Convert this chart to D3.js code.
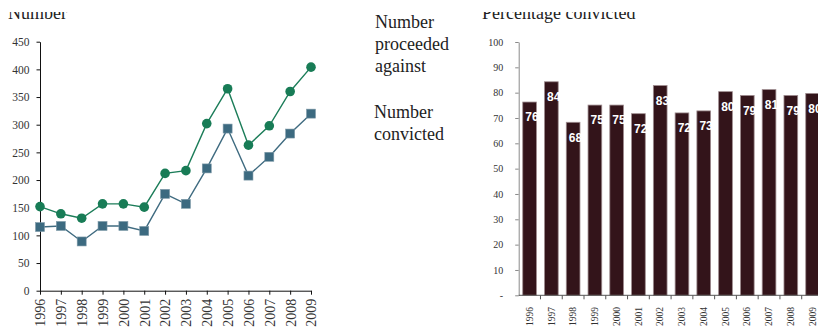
<!DOCTYPE html>
<html>
<head>
<meta charset="utf-8">
<script src="https://cdn.jsdelivr.net/npm/d3@7"></script>
<style>
  html, body { margin: 0; padding: 0; background: #fff; }
  svg { display: block; }
</style>
</head>
<body>
<svg id="chart" width="818" height="328"></svg>
<script>
const years = ["1996","1997","1998","1999","2000","2001","2002","2003","2004","2005","2006","2007","2008","2009"];
const proceeded = [152, 139, 131, 157, 157, 151, 212, 217, 302, 365, 263, 298, 360, 404];
const convicted = [115, 117, 89, 117, 117, 108, 175, 157, 221, 293, 208, 242, 284, 320];
const pctConvicted = [76.3, 84.3, 68.3, 75.1, 75.1, 71.7, 82.8, 72.0, 72.8, 80.4, 78.9, 81.2, 78.9, 79.7];
const pctLabels = ["76","84","68","75","75","72","83","72","73","80","79","81","79","80"];
const leftTicks = [0, 50, 100, 150, 200, 250, 300, 350, 400, 450];
const rightTicks = [0, 10, 20, 30, 40, 50, 60, 70, 80, 90, 100];
const rightTickLabels = ["-", "10", "20", "30", "40", "50", "60", "70", "80", "90", "100"];
const legendProceeded = ["Number", "proceeded", "against"];
const legendConvicted = ["Number", "convicted"];

const svg = d3.select("#chart");
const serif = "'Liberation Serif', 'Times New Roman', serif";
const sans = "'Liberation Sans', Arial, sans-serif";

const defs = svg.append("defs");
defs.append("clipPath").attr("id", "titleClip")
  .append("rect").attr("x", 0).attr("y", 12).attr("width", 818).attr("height", 30);

// ---------------- Left chart ----------------
const xL = d3.scalePoint().domain(years).range([40, 311]);
const yL = d3.scaleLinear().domain([0, 450]).range([290.7, 41.7]);

const gL = svg.append("g");
gL.append("text").attr("x", 8).attr("y", 19)
  .attr("clip-path", "url(#titleClip)")
  .style("font-family", serif).style("font-size", "18px").attr("fill", "#222")
  .text("Number");

const yAxisL = gL.append("g").attr("transform", "translate(40,0)")
  .call(d3.axisLeft(yL).tickValues(leftTicks).tickSize(3.5).tickPadding(7).tickSizeOuter(0));
yAxisL.select(".domain").attr("stroke", "#111");
yAxisL.selectAll(".tick line").attr("stroke", "#111");
yAxisL.selectAll(".tick text").style("font-family", serif).style("font-size", "11.5px").attr("fill", "#333");

const xAxisL = gL.append("g").attr("transform", "translate(0,290.7)")
  .call(d3.axisBottom(xL).tickSize(4).tickSizeOuter(0));
xAxisL.select(".domain").attr("stroke", "#111");
xAxisL.selectAll(".tick line").attr("stroke", "#111");
xAxisL.selectAll(".tick text")
  .style("font-family", serif).style("font-size", "14px").attr("fill", "#333")
  .attr("text-anchor", "end")
  .attr("transform", "rotate(-90)")
  .attr("x", -8).attr("y", 0).attr("dy", "0.35em");

const lineGen = d3.line().x((d, i) => xL(years[i])).y(d => yL(d));

gL.append("path").datum(proceeded).attr("d", lineGen)
  .attr("fill", "none").attr("stroke", "#1c7d59").attr("stroke-width", 1.4);
gL.append("path").datum(convicted).attr("d", lineGen)
  .attr("fill", "none").attr("stroke", "#3f6b80").attr("stroke-width", 1.4);

gL.selectAll("circle.p").data(proceeded).enter().append("circle")
  .attr("class", "p")
  .attr("cx", (d, i) => xL(years[i])).attr("cy", d => yL(d)).attr("r", 4.8)
  .attr("fill", "#187c56");
const sq = 9;
gL.selectAll("rect.c").data(convicted).enter().append("rect")
  .attr("class", "c")
  .attr("x", (d, i) => xL(years[i]) - sq / 2).attr("y", d => yL(d) - sq / 2)
  .attr("width", sq).attr("height", sq)
  .attr("fill", "#3c6a80").attr("stroke", "#7f9aa8").attr("stroke-width", 0.6);

// ---------------- Legend ----------------
const gLeg = svg.append("g");
legendProceeded.forEach((t, i) => {
  gLeg.append("text").attr("x", 375).attr("y", 28 + i * 22)
    .style("font-family", serif).style("font-size", "18px").attr("fill", "#222").text(t);
});
legendConvicted.forEach((t, i) => {
  gLeg.append("text").attr("x", 374).attr("y", 118 + i * 22)
    .style("font-family", serif).style("font-size", "18px").attr("fill", "#222").text(t);
});

// ---------------- Right chart ----------------
const step = 21.77;
const x0 = 518.7;
const xR = d3.scaleBand().domain(years).range([x0, x0 + step * years.length]).padding(0);
const yR = d3.scaleLinear().domain([0, 100]).range([295.3, 42]);
const barW = 13.7;

const gR = svg.append("g");
gR.append("text").attr("x", 482).attr("y", 18.5)
  .attr("clip-path", "url(#titleClip)")
  .style("font-family", serif).style("font-size", "18px").attr("fill", "#222")
  .text("Percentage convicted");

gR.selectAll("rect.bar").data(pctConvicted).enter().append("rect")
  .attr("class", "bar")
  .attr("x", (d, i) => xR(years[i]) + (xR.bandwidth() - barW) / 2)
  .attr("y", d => yR(d))
  .attr("width", barW)
  .attr("height", d => yR(0) - yR(d))
  .attr("fill", "#33141a").attr("stroke", "#9e8c8f").attr("stroke-width", 0.8);

gR.selectAll("text.lbl").data(pctConvicted).enter().append("text")
  .attr("class", "lbl")
  .attr("x", (d, i) => xR(years[i]) + (xR.bandwidth() - barW) / 2 + 2.5)
  .attr("y", d => yR(d) + 19.3)
  .style("font-family", sans).style("font-size", "12px").style("font-weight", "bold")
  .attr("fill", "#fff")
  .text((d, i) => pctLabels[i]);

const yAxisR = gR.append("g").attr("transform", `translate(${x0},0)`)
  .call(d3.axisLeft(yR).tickValues(rightTicks).tickFormat((d, i) => rightTickLabels[i])
    .tickSize(3.5).tickPadding(12).tickSizeOuter(0));
yAxisR.select(".domain").attr("stroke", "#8a8a8a");
yAxisR.selectAll(".tick line").attr("stroke", "#8a8a8a");
yAxisR.selectAll(".tick text").style("font-family", serif).style("font-size", "10px").attr("fill", "#333");

const xAxisR = gR.append("g");
xAxisR.append("line").attr("x1", x0).attr("x2", x0 + step * years.length)
  .attr("y1", yR(0)).attr("y2", yR(0)).attr("stroke", "#555");
xAxisR.selectAll("line.bt").data(years).enter().append("line")
  .attr("class", "bt")
  .attr("x1", d => xR(d) + xR.bandwidth()).attr("x2", d => xR(d) + xR.bandwidth())
  .attr("y1", yR(0)).attr("y2", yR(0) + 4).attr("stroke", "#555");
xAxisR.selectAll("text.yl").data(years).enter().append("text")
  .attr("class", "yl")
  .attr("transform", d => `translate(${xR(d) + xR.bandwidth() / 2 + 3.2},307) rotate(-90)`)
  .attr("text-anchor", "end")
  .style("font-family", serif).style("font-size", "9.5px").attr("fill", "#333")
  .text(d => d);
</script>
</body>
</html>
